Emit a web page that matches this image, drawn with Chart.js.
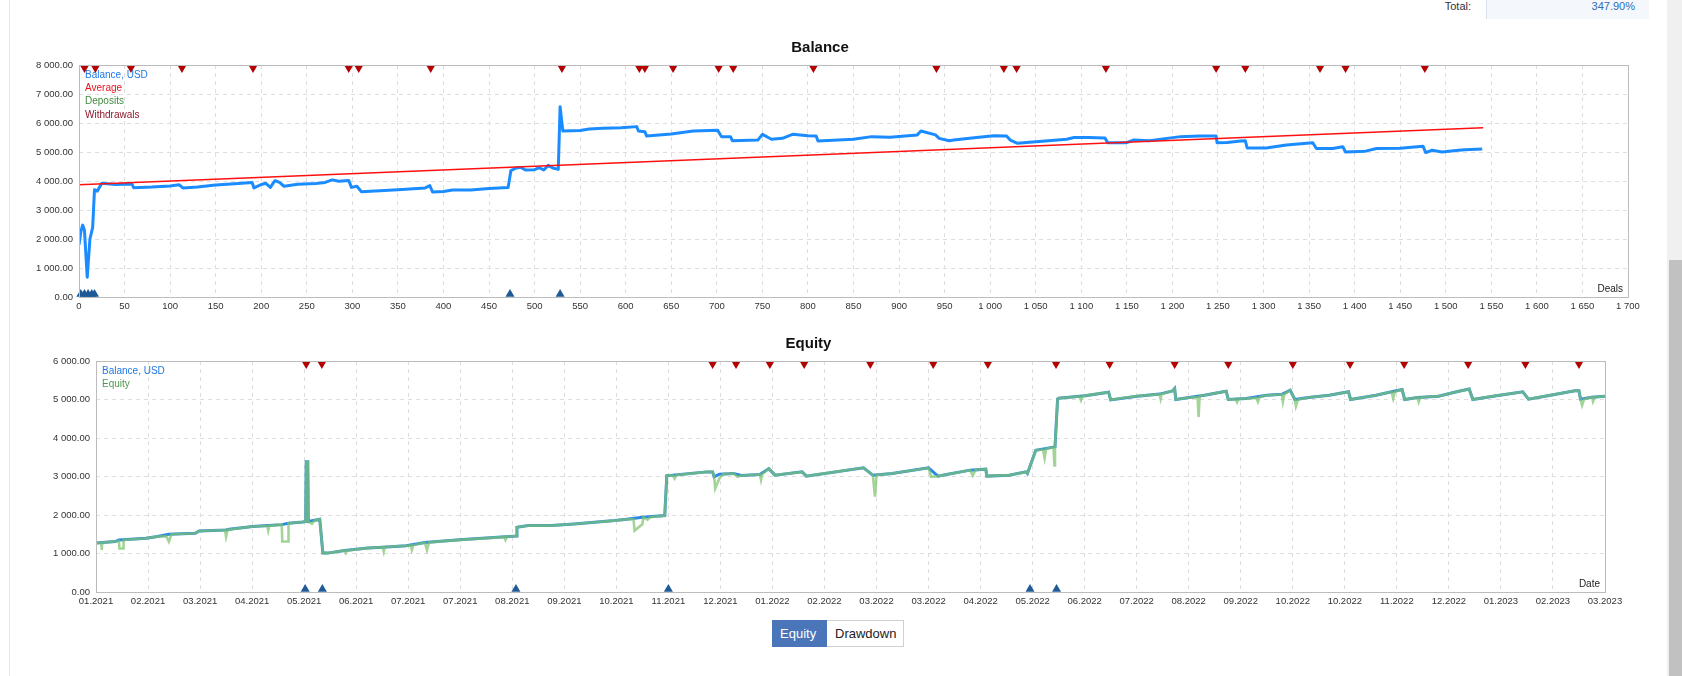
<!DOCTYPE html>
<html lang="en">
<head>
    <meta charset="UTF-8">
    <title>Balance / Equity</title>
    <script src="https://cdn.jsdelivr.net/npm/chart.js"></script>
    <style>
        html, body { margin: 0; padding: 0; background: #fff; overflow: hidden; }
        body { width: 1682px; height: 676px; position: relative; font-family: "Liberation Sans", Arial, sans-serif; }
        .page-border { position: absolute; left: 9px; top: 0; width: 1px; height: 676px; background: #e4e4e4; }
        .total-label { position: absolute; right: 211px; top: 0; height: 19px; line-height: 13px; font-size: 11px; color: #333; }
        .total-box { position: absolute; left: 1486px; top: 0; width: 148px; height: 19px; padding-right: 14px; background: #f4f7fc; border-left: 1px solid #dde3ec; text-align: right; font-size: 11px; line-height: 13px; color: #2f6db5; }
        .chart-box { position: absolute; left: 12px; width: 1652px; }
        #balanceBox { top: 28px; height: 289px; }
        #equityBox { top: 324px; height: 288px; }
        .tabs { position: absolute; left: 772px; top: 620px; height: 27px; display: flex; font-size: 13px; }
        .tabs div { height: 25px; line-height: 25px; border: 1px solid #d0d0d0; padding: 0 8px; }
        .tabs .on { background: #4a75b9; border-color: #4a75b9; color: #fff; width: 39px; padding: 0 7px; }
        .tabs .off { background: #fff; color: #222; border-left: none; width: 60px; }
        .scroll-track { position: absolute; left: 1667px; top: 0; width: 15px; height: 676px; background: #f0f0f0; }
        .scroll-thumb { position: absolute; left: 1669px; top: 260px; width: 13px; height: 416px; background: #c1c1c1; }
    </style>
</head>
<body>
    <div class="page-border"></div>
    <div class="total-label">Total:</div>
    <div class="total-box">347.90%</div>
    <div class="chart-box" id="balanceBox"><canvas id="balanceChart"></canvas></div>
    <div class="chart-box" id="equityBox"><canvas id="equityChart"></canvas></div>
    <div class="tabs"><div class="on">Equity</div><div class="off">Drawdown</div></div>
    <div class="scroll-track"></div>
    <div class="scroll-thumb"></div>

    <script>
        // ---- Balance chart (x = deal number) ----
        const balanceDeals = [0, 2, 4, 6, 9, 12, 15, 17, 20, 25, 40, 58, 60, 80, 100, 110, 114, 130, 150, 175, 190, 192, 200, 205, 210, 215, 220, 225, 240, 260, 270, 278, 285, 296, 299, 305, 310, 330, 350, 380, 385, 388, 400, 410, 430, 450, 471, 474, 480, 485, 490, 500, 505, 510, 515, 520, 526, 528, 531, 550, 560, 575, 595, 612, 614, 621, 623, 650, 674, 701, 705, 715, 717, 745, 750, 760, 772, 783, 800, 809, 811, 850, 870, 890, 920, 924, 940, 944, 955, 960, 985, 1004, 1018, 1022, 1030, 1040, 1084, 1092, 1108, 1126, 1129, 1150, 1157, 1175, 1194, 1209, 1230, 1248, 1249, 1260, 1275, 1280, 1282, 1303, 1325, 1354, 1358, 1376, 1387, 1390, 1412, 1424, 1450, 1475, 1478, 1485, 1496, 1514, 1521, 1540];
        const balanceValues = [1800, 2250, 2480, 2300, 680, 2000, 2400, 3700, 3650, 3920, 3880, 3900, 3770, 3790, 3830, 3870, 3760, 3790, 3860, 3910, 3950, 3760, 3880, 3920, 3780, 4010, 3950, 3820, 3890, 3910, 3950, 4040, 3990, 4020, 3780, 3820, 3630, 3660, 3700, 3760, 3840, 3620, 3640, 3690, 3690, 3740, 3780, 4360, 4450, 4470, 4380, 4390, 4460, 4380, 4540, 4450, 4400, 6560, 5720, 5740, 5790, 5815, 5840, 5875, 5725, 5700, 5550, 5620, 5725, 5750, 5530, 5530, 5390, 5410, 5610, 5440, 5470, 5610, 5560, 5550, 5380, 5440, 5530, 5510, 5590, 5725, 5590, 5470, 5390, 5410, 5500, 5560, 5550, 5410, 5300, 5330, 5440, 5500, 5500, 5480, 5320, 5320, 5410, 5390, 5470, 5530, 5550, 5550, 5320, 5330, 5380, 5390, 5140, 5140, 5240, 5320, 5120, 5120, 5180, 5000, 5030, 5120, 5130, 5200, 4980, 5060, 5000, 5060, 5080, 5105];
        const averageDeals = [0, 1541];
        const averageValues = [3870, 5840];
        const balanceDepositDeals = [2, 6, 10, 14, 17, 473, 528];
        const balanceWithdrawalDeals = [6, 18, 57, 113, 191, 296, 307, 386, 530, 615, 621, 652, 702, 718, 806, 941, 1015, 1029, 1127, 1248, 1280, 1362, 1390, 1477];
        const dealTicks = { min: 0, max: 1700, step: 50 };
        const balanceTicks = { min: 0, max: 8000, step: 1000 };

        // ---- Equity chart (x = position on the month axis) ----
        const monthLabels = ['01.2021', '02.2021', '03.2021', '04.2021', '05.2021', '06.2021', '07.2021', '07.2021', '08.2021', '09.2021', '10.2021', '11.2021', '12.2021', '01.2022', '02.2022', '03.2022', '03.2022', '04.2022', '05.2022', '06.2022', '07.2022', '08.2022', '09.2022', '10.2022', '10.2022', '11.2022', '12.2022', '01.2023', '02.2023', '03.2023'];
        const eqBalanceT = [0, 0.37, 0.44, 0.96, 1.18, 1.4, 1.91, 1.98, 2.5, 2.56, 3.01, 3.31, 3.57, 3.7, 3.97, 4.03, 4.04, 4.07, 4.08, 4.3, 4.36, 4.45, 4.78, 5.22, 5.51, 5.96, 6.32, 6.99, 7.72, 8.08, 8.09, 8.31, 8.75, 9.19, 9.69, 9.97, 10.2, 10.5, 10.93, 10.97, 11.08, 11.74, 11.85, 11.88, 11.98, 12.25, 12.4, 12.76, 12.93, 13.05, 13.57, 13.65, 14.75, 14.93, 15.3, 16.0, 16.18, 16.37, 16.8, 17.1, 17.12, 17.55, 17.87, 17.9, 18.06, 18.43, 18.48, 18.5, 19.01, 19.46, 19.5, 20.01, 20.44, 20.69, 20.73, 20.75, 21.01, 21.3, 21.72, 21.76, 22.1, 22.5, 22.79, 22.95, 23.04, 23.3, 23.7, 24.07, 24.11, 24.6, 24.9, 25.1, 25.15, 25.4, 25.8, 26.15, 26.39, 26.46, 26.85, 27.42, 27.53, 27.85, 28.42, 28.5, 28.53, 28.75, 29.0];
        const eqBalanceV = [1270, 1310, 1350, 1395, 1440, 1500, 1525, 1585, 1610, 1630, 1700, 1725, 1750, 1785, 1820, 1830, 3380, 3380, 1830, 1890, 1010, 1010, 1080, 1140, 1165, 1200, 1285, 1355, 1420, 1455, 1680, 1725, 1725, 1765, 1825, 1855, 1890, 1940, 1985, 3025, 3035, 3120, 3120, 2990, 3060, 3080, 3025, 3050, 3205, 3035, 3120, 3010, 3225, 3035, 3080, 3225, 3010, 3060, 3165, 3190, 3010, 3035, 3120, 3080, 3680, 3770, 5015, 5035, 5100, 5190, 4990, 5087, 5140, 5225, 5285, 5000, 5050, 5110, 5215, 5000, 5025, 5110, 5135, 5240, 5000, 5050, 5110, 5200, 5000, 5110, 5200, 5260, 5000, 5050, 5087, 5200, 5270, 5000, 5087, 5200, 5010, 5087, 5225, 5225, 5010, 5060, 5087];
        const eqEquityT = [0, 0.1, 0.11, 0.12, 0.37, 0.44, 0.45, 0.52, 0.53, 0.96, 1.18, 1.35, 1.4, 1.45, 1.91, 1.98, 2.48, 2.5, 2.53, 3.01, 3.29, 3.31, 3.33, 3.57, 3.58, 3.69, 3.7, 3.97, 4.03, 4.04, 4.07, 4.08, 4.15, 4.2, 4.3, 4.36, 4.45, 4.78, 4.8, 4.82, 5.22, 5.51, 5.53, 5.55, 5.96, 6.05, 6.07, 6.1, 6.32, 6.36, 6.4, 6.99, 7.72, 7.85, 7.87, 7.9, 8.08, 8.09, 8.31, 8.75, 9.19, 9.69, 9.97, 10.2, 10.33, 10.35, 10.5, 10.52, 10.6, 10.65, 10.93, 10.97, 11.08, 11.12, 11.15, 11.74, 11.85, 11.88, 11.9, 11.98, 12.05, 12.25, 12.33, 12.4, 12.76, 12.78, 12.8, 12.93, 13.05, 13.57, 13.65, 14.2, 14.75, 14.93, 14.97, 15.0, 15.3, 16.0, 16.05, 16.18, 16.37, 16.8, 16.85, 16.9, 17.1, 17.12, 17.55, 17.87, 17.9, 18.06, 18.2, 18.23, 18.26, 18.4, 18.42, 18.43, 18.48, 18.5, 18.9, 18.93, 18.96, 19.01, 19.46, 19.5, 19.8, 20.01, 20.44, 20.46, 20.48, 20.69, 20.73, 20.75, 21.01, 21.17, 21.19, 21.21, 21.3, 21.72, 21.76, 21.9, 21.93, 21.96, 22.1, 22.3, 22.33, 22.36, 22.5, 22.79, 22.81, 22.84, 22.95, 23.04, 23.06, 23.1, 23.3, 23.7, 24.07, 24.11, 24.6, 24.9, 24.93, 24.96, 25.1, 25.15, 25.4, 25.42, 25.45, 25.8, 26.15, 26.39, 26.46, 26.85, 27.42, 27.53, 27.85, 28.42, 28.5, 28.53, 28.56, 28.6, 28.75, 28.77, 28.8, 29.0];
        const eqEquityV = [1270, 1280, 1095, 1280, 1310, 1330, 1130, 1130, 1350, 1395, 1440, 1450, 1310, 1500, 1525, 1585, 1610, 1440, 1620, 1700, 1720, 1595, 1725, 1750, 1310, 1310, 1785, 1820, 1830, 3380, 3380, 1830, 1770, 1860, 1890, 1010, 1010, 1080, 1020, 1080, 1140, 1165, 1050, 1170, 1200, 1210, 1095, 1220, 1285, 1095, 1290, 1355, 1420, 1430, 1355, 1440, 1455, 1680, 1725, 1725, 1765, 1825, 1855, 1890, 1890, 1595, 1760, 1940, 1880, 1940, 1985, 3025, 3035, 2950, 3040, 3120, 3120, 2990, 2690, 2950, 3060, 3080, 2990, 3025, 3050, 2920, 3060, 3205, 3035, 3120, 3010, 3120, 3225, 3035, 2475, 3040, 3080, 3225, 2990, 3010, 3060, 3165, 3020, 3170, 3190, 3010, 3035, 3120, 3080, 3680, 3700, 3480, 3720, 3760, 3290, 3770, 5015, 5035, 5080, 4980, 5095, 5100, 5190, 4990, 5050, 5087, 5140, 5020, 5140, 5225, 5285, 5000, 5050, 5060, 4550, 5100, 5110, 5215, 5000, 5010, 4930, 5020, 5025, 5040, 4940, 5060, 5110, 5135, 4940, 5140, 5240, 5000, 4830, 5000, 5050, 5110, 5200, 5000, 5110, 5200, 5030, 5200, 5260, 5000, 5050, 4940, 5050, 5087, 5200, 5270, 5000, 5087, 5200, 5010, 5087, 5225, 5225, 5010, 4850, 5010, 5060, 4950, 5060, 5087];
        const eqDepositT = [4.02, 4.35, 8.07, 11.0, 17.95, 18.46];
        const eqWithdrawalT = [4.04, 4.34, 11.85, 12.3, 12.95, 13.61, 14.88, 16.09, 17.14, 18.45, 19.48, 20.73, 21.76, 23.0, 24.1, 25.14, 26.37, 27.47, 28.5];
        const equityTicks = { min: 0, max: 6000, step: 1000 };

        const FONT = 'Liberation Sans, Arial, sans-serif';

        function spaced(n, decimals) {
            const parts = n.toFixed(decimals).split('.');
            const whole = parts[0].replace(/\B(?=(\d{3})+(?!\d))/g, ' ');
            return parts.length > 1 ? whole + '.' + parts[1] : whole;
        }

        function toPoints(xs, ys) {
            return xs.map((x, i) => ({ x: x, y: ys[i] }));
        }

        // markers sit on their own hidden 0..100 axis, at the top / bottom edge
        function markerPoints(xs, level) {
            return xs.map(x => ({ x: x, y: level }));
        }

        // frame round the plot, legend text inside it, axis caption in the corner
        const framePlugin = {
            id: 'frame',
            afterDatasetsDraw(chart, args, opts) {
                const { ctx, chartArea: a } = chart;
                ctx.save();
                ctx.strokeStyle = '#bcbcbc';
                ctx.lineWidth = 1;
                ctx.strokeRect(Math.round(a.left) + 0.5, Math.round(a.top) + 0.5,
                    Math.round(a.right - a.left), Math.round(a.bottom - a.top));
                ctx.font = '10px ' + FONT;
                ctx.textBaseline = 'middle';
                ctx.textAlign = 'left';
                (opts.legend || []).forEach((item, i) => {
                    ctx.fillStyle = item.color;
                    ctx.fillText(item.text, a.left + 6, a.top + 10 + i * 13.3);
                });
                if (opts.caption) {
                    ctx.fillStyle = '#222';
                    ctx.textAlign = 'right';
                    ctx.textBaseline = 'alphabetic';
                    ctx.fillText(opts.caption, a.right - 5, a.bottom - 5);
                }
                ctx.restore();
            }
        };

        function baseOptions(title, yTicks, yWidth, rightPad, legend, caption) {
            return {
                responsive: true,
                maintainAspectRatio: false,
                animation: false,
                layout: { padding: { left: 0, right: rightPad, top: 0, bottom: 0 } },
                plugins: {
                    legend: { display: false },
                    tooltip: { enabled: false },
                    title: {
                        display: true,
                        text: title,
                        color: '#111',
                        font: { family: FONT, size: 15, weight: 'bold', lineHeight: 1.2 },
                        padding: { top: 11, bottom: 8 }
                    },
                    frame: { legend: legend, caption: caption }
                },
                scales: {
                    y: {
                        min: yTicks.min,
                        max: yTicks.max,
                        afterFit: s => { s.width = yWidth; },
                        ticks: {
                            stepSize: yTicks.step,
                            padding: 6,
                            color: '#333',
                            font: { family: FONT, size: 9.5 },
                            callback: v => spaced(v, 2)
                        },
                        grid: { color: '#dedede', drawTicks: false },
                        border: { display: false, dash: [4, 4] }
                    },
                    m: {
                        display: false,
                        min: 0,
                        max: 100
                    }
                }
            };
        }

        function xScale(range, labelFn) {
            return {
                type: 'linear',
                min: range.min,
                max: range.max,
                afterFit: s => { s.height = 20; },
                ticks: {
                    stepSize: range.step,
                    autoSkip: false,
                    maxRotation: 0,
                    padding: 4,
                    color: '#333',
                    font: { family: FONT, size: 9.5 },
                    callback: labelFn
                },
                grid: { color: '#dedede', drawTicks: false },
                border: { display: false, dash: [4, 4] }
            };
        }

        function withdrawalSet(xs) {
            return {
                label: 'Withdrawals', data: markerPoints(xs, 98.8), yAxisID: 'm',
                pointStyle: 'triangle', rotation: 180, pointRadius: 5.2,
                backgroundColor: '#b30000', borderColor: '#b30000', borderWidth: 0, clip: false
            };
        }

        function depositSet(xs) {
            return {
                label: 'Deposits', data: markerPoints(xs, 1.2), yAxisID: 'm',
                pointStyle: 'triangle', rotation: 0, pointRadius: 5.2,
                backgroundColor: '#1f5a96', borderColor: '#1f5a96', borderWidth: 0, clip: false
            };
        }

        // Balance
        const balanceOptions = baseOptions('Balance', balanceTicks, 67, 36, [
            { text: 'Balance, USD', color: '#1e78e6' },
            { text: 'Average', color: '#e8141e' },
            { text: 'Deposits', color: '#3f8a3f' },
            { text: 'Withdrawals', color: '#8e1a2a' }
        ], 'Deals');
        balanceOptions.scales.x = xScale(dealTicks, v => spaced(v, 0));

        // dataset 0 is drawn on top in Chart.js
        new Chart(document.getElementById('balanceChart'), {
            type: 'scatter',
            data: {
                datasets: [
                    {
                        label: 'Average', data: toPoints(averageDeals, averageValues), yAxisID: 'y',
                        showLine: true, borderColor: '#ff1010', borderWidth: 1.5, pointRadius: 0, tension: 0
                    },
                    {
                        label: 'Balance, USD', data: toPoints(balanceDeals, balanceValues), yAxisID: 'y',
                        showLine: true, borderColor: '#1a8cff', borderWidth: 3, pointRadius: 0, tension: 0,
                        borderJoinStyle: 'round'
                    },
                    withdrawalSet(balanceWithdrawalDeals),
                    depositSet(balanceDepositDeals)
                ]
            },
            options: balanceOptions,
            plugins: [framePlugin]
        });

        // Equity
        const equityOptions = baseOptions('Equity', equityTicks, 84, 59, [
            { text: 'Balance, USD', color: '#1e78e6' },
            { text: 'Equity', color: '#4f9a4f' }
        ], 'Date');
        equityOptions.scales.x = xScale({ min: 0, max: monthLabels.length - 1, step: 1 },
            v => monthLabels[Math.round(v)] || '');

        new Chart(document.getElementById('equityChart'), {
            type: 'scatter',
            data: {
                datasets: [
                    {
                        label: 'Equity', data: toPoints(eqEquityT, eqEquityV), yAxisID: 'y',
                        showLine: true, borderColor: 'rgba(125, 195, 110, 0.72)', borderWidth: 2.6, pointRadius: 0, tension: 0
                    },
                    {
                        label: 'Balance, USD', data: toPoints(eqBalanceT, eqBalanceV), yAxisID: 'y',
                        showLine: true, borderColor: '#2a8ae6', borderWidth: 3, pointRadius: 0, tension: 0
                    },
                    withdrawalSet(eqWithdrawalT),
                    depositSet(eqDepositT)
                ]
            },
            options: equityOptions,
            plugins: [framePlugin]
        });
    </script>
</body>
</html>
